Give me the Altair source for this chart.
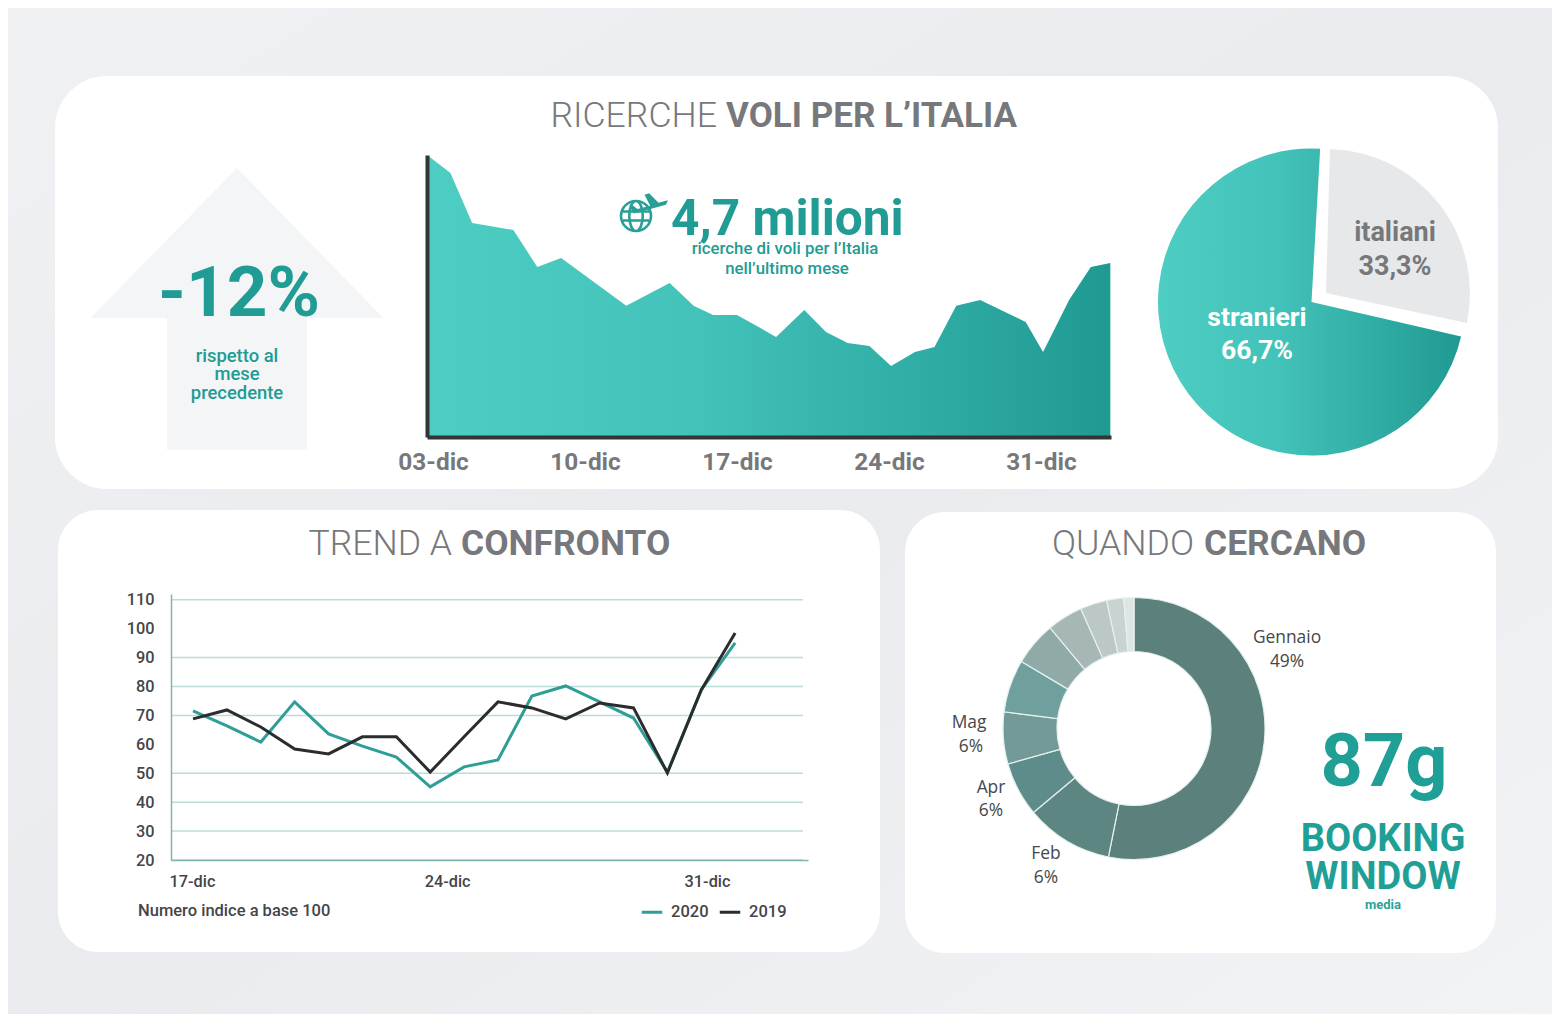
import altair as alt
import pandas as pd

# ---- data ----
area_days = [-0.2, 0.8, 1.8, 3.7, 4.8, 5.9, 8.9, 10.9, 12.0, 12.9, 14.0, 15.8, 17.1, 18.1, 19.1, 20.1, 21.1, 22.2, 23.1, 24.1, 25.2, 27.3, 28.1, 29.3, 30.3, 31.2]
area_vals = [99.6, 93.6, 75.9, 73.4, 60.3, 63.5, 46.5, 54.6, 46.5, 43.3, 43.3, 35.5, 45.0, 37.2, 33.3, 32.3, 25.2, 30.1, 31.9, 46.5, 48.6, 40.8, 30.1, 48.6, 60.3, 61.7]
area_ticks = [0, 7, 14, 21, 28]
area_tick_labels = ["03-dic", "10-dic", "17-dic", "24-dic", "31-dic"]

trend_idx = list(range(17))
trend_2020 = [71.6, 66.4, 60.8, 74.7, 63.6, 59.4, 55.6, 45.3, 52.2, 54.6, 76.7, 80.2, 74.7, 69.1, 50.4, 78.8, 95.1]
trend_2019 = [68.8, 71.9, 66.0, 58.4, 56.7, 62.6, 62.6, 50.4, 62.6, 74.7, 72.6, 68.8, 74.3, 72.6, 50.1, 78.8, 98.5]
trend_yticks = [20, 30, 40, 50, 60, 70, 80, 90, 100, 110]
trend_grid = [110, 90, 80, 70, 50, 40, 30, 20]
trend_xticks = [-0.03, 7.5, 15.17]
trend_xlabels = ["17-dic", "24-dic", "31-dic"]

pie_teal_turn = [28.6, 100.9]
pie_grey_turn = [0.44, 28.35]

donut_months = ["Gennaio", "Feb", "Apr", "Mag", "Giu", "Lug", "Ago", "Set", "Ott", "Nov"]
donut_shares = [53.1, 10.8, 6.7, 6.4, 6.5, 5.4, 4.4, 3.3, 2.1, 1.25]
donut_colors = ["#5c807b", "#5d8582", "#5e8c8a", "#749a98", "#6fa09e", "#90aaa7", "#a6b7b5", "#bbc8c6", "#c9d3d1", "#dde6e5"]

TEAL = "#209C94"
GREY = "#77787b"
DARK = "#444548"
FONT = "Roboto"
W, H = 1544, 1006
OX, OY = 8, 8   # page margin: picture pixel -> chart pixel


def px(v):
    return v - OX


def py(v):
    return v - OY


ONE = pd.DataFrame({"k": [1]})


def gradient(stops, x2=1, y2=0):
    return alt.LinearGradient(gradient="linear", x1=0, x2=x2, y1=0, y2=y2,
                              stops=[alt.GradientStop(color=c, offset=o) for c, o in stops])


teal_grad = gradient([("#4ECDC3", 0), ("#43C2B9", 0.4), ("#1F9A92", 1)])


def panel(x0, x1, y0, y1, r, color="#ffffff"):
    return alt.Chart(ONE).mark_rect(color=color, cornerRadius=r).encode(
        x=alt.value(px(x0)), x2=alt.value(px(x1)), y=alt.value(py(y0)), y2=alt.value(py(y1)))


def txt(s, x, y, size, weight="normal", color=TEAL, align="center", font=FONT):
    return alt.Chart(ONE).mark_text(fontSize=size, fontWeight=weight, color=color, align=align,
                                    baseline="alphabetic", font=font).encode(
        x=alt.value(px(x)), y=alt.value(py(y)), text=alt.value(s))


def shape(path, x, y, half, fill=None, stroke=None, sw=1):
    kw = dict(shape=path, size=(2 * half) ** 2, opacity=1)
    if fill:
        kw.update(filled=True, color=fill, strokeWidth=0)
    else:
        kw.update(filled=False, color=stroke, strokeWidth=sw)
    return alt.Chart(ONE).mark_point(**kw).encode(x=alt.value(px(x)), y=alt.value(py(y)))


layers = []

# page and panels
layers.append(alt.Chart(ONE).mark_rect(color=gradient(
    [("#f0f1f3", 0), ("#e9ebee", 0.5), ("#f2f3f5", 1)], x2=1, y2=1)).encode(
    x=alt.value(0), x2=alt.value(W), y=alt.value(0), y2=alt.value(H)))
layers += [panel(55, 1498, 76, 489, 52), panel(58, 880, 510, 952, 40), panel(905, 1496, 512, 953, 40)]

# titles
layers += [
    txt("RICERCHE", 717, 127, 35.6, 300, GREY, "right"), txt("VOLI PER L\u2019ITALIA", 726, 127, 35, "bold", GREY, "left"),
    txt("TREND A", 452, 555, 35.6, 300, GREY, "right"), txt("CONFRONTO", 461, 555, 35.4, "bold", GREY, "left"),
    txt("QUANDO", 1194, 555, 35.6, 300, GREY, "right"), txt("CERCANO", 1204, 555, 35.4, "bold", GREY, "left"),
]

# arrow
layers.append(shape("M0,-1.024L1,0L0.478,0L0.478,0.9L-0.478,0.9L-0.478,0L-1,0Z", 237, 318, 146.5, fill="#F4F5F7"))
layers += [
    txt("-12%", 239, 316, 71, "bold"),
    txt("rispetto al", 237, 362, 18.4, 500), txt("mese", 237, 380, 18.4, 500), txt("precedente", 237, 399, 18.4, 500),
]

# area chart
area_df = pd.DataFrame({"day": area_days, "v": area_vals})
label_map = "{" + ",".join(f"'{t}':'{l}'" for t, l in zip(area_ticks, area_tick_labels)) + "}"
layers.append(alt.Chart(area_df).mark_area(color=teal_grad, interpolate="linear").encode(
    x=alt.X("day:Q", title=None,
            scale=alt.Scale(domain=[-0.28, 31.23], range=[px(427), px(1111)], nice=False, zero=False),
            axis=alt.Axis(orient="bottom", offset=py(437) - H, values=area_ticks, labelExpr=f"{label_map}[datum.value]",
                          grid=False, ticks=False, domainColor="#333436", domainWidth=4, labelFont=FONT,
                          labelFontSize=24.4, labelFontWeight="bold", labelColor=GREY, labelPadding=13,
                          labelFlush=False, labelOverlap=False, zindex=1)),
    y=alt.Y("v:Q", title=None, scale=alt.Scale(domain=[0, 100], range=[py(437), py(155)], nice=False),
            axis=alt.Axis(orient="left", offset=-px(427), grid=False, ticks=False, labels=False,
                          domainColor="#333436", domainWidth=4, zindex=1)),
))
layers += [
    txt("4,7 milioni", 671, 235, 49.6, "bold", align="left"),
    txt("ricerche di voli per l\u2019Italia", 785, 254, 16.8, 500),
    txt("nell\u2019ultimo mese", 787, 274, 16.8, 500),
]
# plane and globe icon
layers.append(shape("M-1,0A1,1 0 1,1 1,0A1,1 0 1,1 -1,0M0,-1A0.45,1 0 1,0 0,1A0.45,1 0 1,0 0,-1M-0.95,-0.3L0.95,-0.3M-0.95,0.3L0.95,0.3",
                    636, 216, 15, stroke="#2A9F98", sw=2.6))
layers.append(shape("M1,-0.42L0.55,-0.3L0.1,-0.75L-0.12,-0.68L0.15,-0.16L-0.45,0L-0.72,-0.2L-0.85,-0.15L-0.62,0.22L0.9,-0.2Z",
                    647, 209, 21, fill="#2A9F98"))

# pie


def arc_layer(turns, cx, cy, r, fill):
    df = pd.DataFrame({"a": [turns[0]], "b": [turns[1]]})
    return alt.Chart(df).mark_arc(radius=r, color=fill).encode(
        theta=alt.Theta("a:Q", scale=alt.Scale(domain=[0, 100], range=[0, 6.283185])),
        theta2="b:Q", x=alt.value(px(cx)), y=alt.value(py(cy)))


layers.append(arc_layer(pie_teal_turn, 1311.5, 302, 153.5, teal_grad))
layers.append(arc_layer(pie_grey_turn, 1326, 293, 144, "#E7E8EA"))
layers += [
    txt("italiani", 1395, 241, 27, "bold", GREY), txt("33,3%", 1395, 275, 27, "bold", GREY),
    txt("stranieri", 1257, 326, 26.6, "bold", "#ffffff"), txt("66,7%", 1257, 359, 26.6, "bold", "#ffffff"),
]

# trend chart
TX = alt.Scale(domain=[-0.65, 18.15], range=[px(171), px(808)], nice=False, zero=False)
TY = alt.Scale(domain=[20, 112], range=[py(860), py(594)], nice=False, zero=False)
layers.append(alt.Chart(pd.DataFrame({"v": trend_grid})).mark_rule(color="#BBDDDA", strokeWidth=1.5).encode(
    y=alt.Y("v:Q", scale=TY, axis=None), x=alt.value(px(171)), x2=alt.value(px(803))))
trend_df = pd.DataFrame({
    "i": trend_idx + trend_idx,
    "v": trend_2020 + trend_2019,
    "serie": ["2020"] * 17 + ["2019"] * 17,
})
xlabel_expr = f"datum.value < 1 ? '{trend_xlabels[0]}' : datum.value < 10 ? '{trend_xlabels[1]}' : '{trend_xlabels[2]}'"
layers.append(alt.Chart(trend_df).mark_line(strokeWidth=3, interpolate="linear").encode(
    x=alt.X("i:Q", title=None, scale=TX,
            axis=alt.Axis(orient="bottom", offset=py(860) - H, values=trend_xticks, labelExpr=xlabel_expr, grid=False,
                          ticks=False, domainColor="#7FB5AF", domainWidth=1.5, labelFont=FONT, labelFontSize=16.3,
                          labelFontWeight=500, labelColor=DARK, labelPadding=13, labelOverlap=False, labelFlush=False,
                          zindex=1)),
    y=alt.Y("v:Q", title=None, scale=TY,
            axis=alt.Axis(orient="left", offset=-px(171), values=trend_yticks, grid=False, ticks=False,
                          domainColor="#7FB5AF", domainWidth=1.5, labelFont=FONT, labelFontSize=16.3,
                          labelFontWeight=500, labelColor=DARK, labelPadding=17, labelOverlap=False, zindex=1)),
    color=alt.Color("serie:N", sort=["2020", "2019"],
                    scale=alt.Scale(domain=["2020", "2019"], range=["#2E9E97", "#2B2C2E"]),
                    legend=alt.Legend(orient="none", legendX=px(640), legendY=py(900), direction="horizontal",
                                      title=None, symbolType="stroke", symbolSize=420, symbolStrokeWidth=3,
                                      labelFont=FONT, labelFontSize=16.5, labelFontWeight=500, labelColor=DARK,
                                      columnPadding=4, labelOffset=7)),
    detail="serie:N",
))
layers.append(txt("Numero indice a base 100", 138, 916, 16.5, 500, DARK, "left"))

# donut
donut_df = pd.DataFrame({"mese": donut_months, "q": donut_shares, "o": list(range(len(donut_months)))})
layers.append(alt.Chart(donut_df).mark_arc(radius=131, radius2=77, stroke="#E4F1EF", strokeWidth=1.2).encode(
    theta=alt.Theta("q:Q", stack=True, scale=alt.Scale(domain=[0, sum(donut_shares)], range=[0, 6.283185])),
    order=alt.Order("o:Q"),
    color=alt.Color("mese:N", sort=donut_months, scale=alt.Scale(domain=donut_months, range=donut_colors), legend=None),
    x=alt.value(px(1134)), y=alt.value(py(728.5))))
for s, x, y in [("Gennaio", 1287, 643), ("49%", 1287, 667), ("Mag", 969, 728), ("6%", 971, 752),
                ("Apr", 991, 793), ("6%", 991, 816), ("Feb", 1046, 859), ("6%", 1046, 883)]:
    layers.append(txt(s, x, y, 17.4, "normal", "#46474a", font="Open Sans"))
layers += [
    txt("87g", 1384, 786, 74, "bold", "#1F9F96"),
    txt("BOOKING", 1383, 851, 38, "bold", "#1F9F96"),
    txt("WINDOW", 1383, 889, 38, "bold", "#1F9F96"),
    txt("media", 1383, 909, 13, "bold", "#2BA39B"),
]

chart = alt.layer(*layers).resolve_scale(
    x="independent", y="independent", color="independent", theta="independent"
).properties(
    width=W, height=H, padding=0, autosize=alt.AutoSizeParams(type="none"), background="#eceef1"
).configure_view(stroke=None)

chart.save("out.html", embed_options={"renderer": "svg", "actions": False})
